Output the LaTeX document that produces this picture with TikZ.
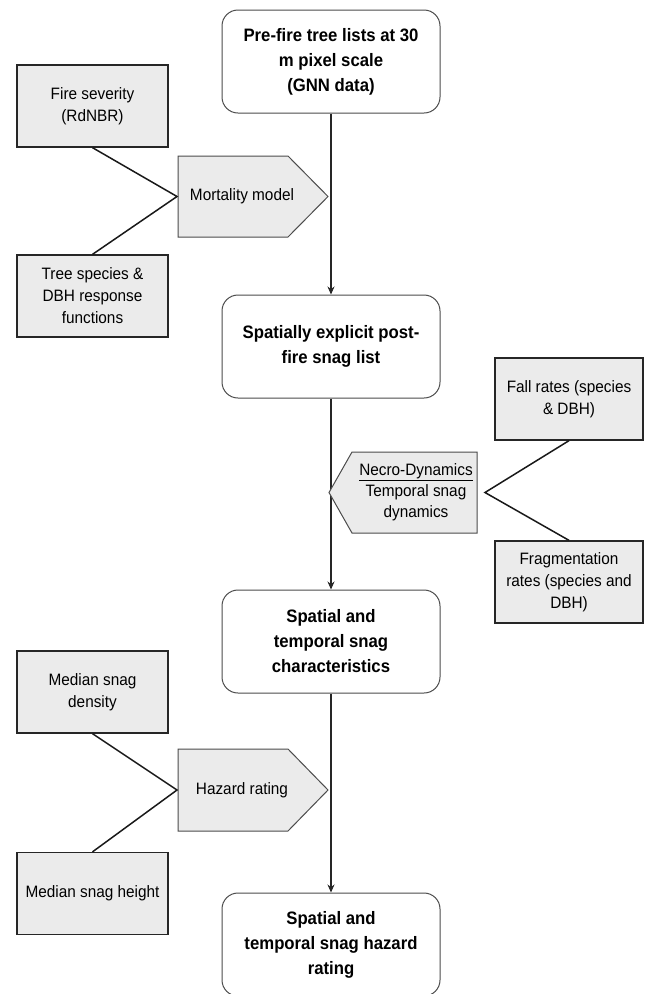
\documentclass[tikz,border=0pt]{standalone}
\usepackage{fontspec}
\setmainfont{Liberation Sans}[FakeStretch=0.93]
\usetikzlibrary{arrows.meta}
\begin{document}
\begin{tikzpicture}[x=1pt,y=-1pt,
 mainbox/.style={draw=black!70, line width=1pt, fill=white, rounded corners=16pt, minimum width=218pt, minimum height=103pt, align=center, font=\fontsize{18}{25}\selectfont\bfseries, inner sep=0pt},
 sidebox/.style={draw=black!85, line width=1.3pt, fill=black!8, minimum width=151pt, minimum height=82pt, align=center, font=\fontsize{16.5}{22}\selectfont, inner sep=0pt},
 pentfill/.style={draw=black!70, line width=1pt, fill=black!8},
 txt/.style={align=center, font=\fontsize{16.5}{21}\selectfont, inner sep=0pt},
 flow/.style={draw=black!85, line width=1.2pt, -{Stealth[length=8pt,width=7pt]}},
 link/.style={draw=black!90, line width=1.5pt},
]
\useasboundingbox[fill=white] (0,0) rectangle (647,994);
\begin{scope}
\clip (0,0) rectangle (647,994);
% main column
\node[mainbox] (b1) at (331,61.5) {Pre-fire tree lists at 30\\m pixel scale\\(GNN data)};
\node[mainbox] (b2) at (331,346.5) {Spatially explicit post-\\fire snag list};
\node[mainbox] (b3) at (331,641.5) {Spatial and\\temporal snag\\characteristics};
\node[mainbox] (b4) at (331,944.5) {Spatial and\\temporal snag hazard\\rating};
\draw[flow] (b1) -- (b2);
\draw[flow] (b2) -- (b3);
\draw[flow] (b3) -- (b4);

% mortality model
\draw[pentfill] (178,156) -- (288,156) -- (328,196.5) -- (288,237) -- (178,237) -- cycle;
\node[txt] (mort) at (242,196.5) {Mortality model};
\node[sidebox] (fs) at (92.5,106) {Fire severity\\(RdNBR)};
\node[sidebox] (ts) at (92.5,296) {Tree species \&\\DBH response\\functions};
\coordinate (j1) at (177,196.5);
\draw[link] (fs.south) -- (j1) -- (ts.north);

% necro-dynamics
\draw[pentfill] (329,492.5) -- (352,452) -- (477,452) -- (477,533) -- (352,533) -- cycle;
\node[txt] (necro) at (416,492.5) {\underline{Necro-Dynamics}\\Temporal snag\\dynamics};
\node[sidebox,minimum width=148pt] (fr) at (569,399) {Fall rates (species\\\& DBH)};
\node[sidebox,minimum width=148pt] (fg) at (569,582) {Fragmentation\\rates (species and\\DBH)};
\coordinate (j2) at (485,492.5);
\draw[link] (fr.south) -- (j2) -- (fg.north);

% hazard rating
\draw[pentfill] (178,749) -- (288,749) -- (328,790) -- (288,831) -- (178,831) -- cycle;
\node[txt] (haz) at (242,790) {Hazard rating};
\node[sidebox] (md) at (92.5,692) {Median snag\\density};
\node[sidebox] (mh) at (92.5,893.5) {Median snag height};
\coordinate (j3) at (177,790);
\draw[link] (md.south) -- (j3) -- (mh.north);
\end{scope}
\end{tikzpicture}
\end{document}
